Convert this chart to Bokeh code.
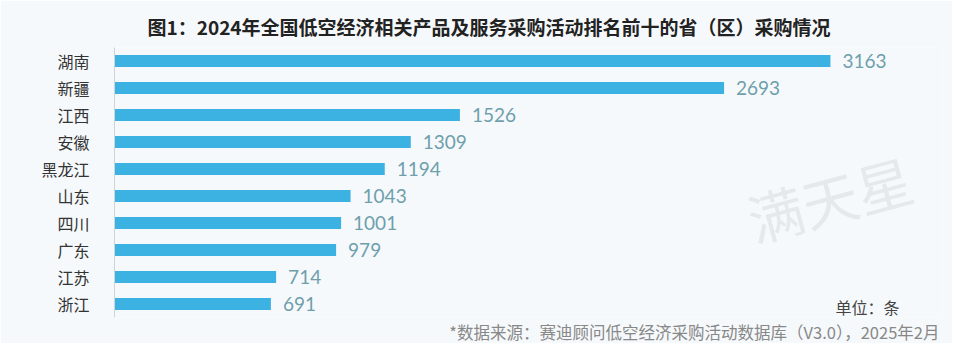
import math
from bokeh.plotting import figure
from bokeh.models import ColumnDataSource, LabelSet, Label, FactorRange, Range1d, Title
from bokeh.core.properties import value
from bokeh.embed import file_html
from bokeh.resources import INLINE

provinces = ["湖南", "新疆", "江西", "安徽", "黑龙江", "山东", "四川", "广东", "江苏", "浙江"]
counts = [3163, 2693, 1526, 1309, 1194, 1043, 1001, 979, 714, 691]
count_labels = [str(c) for c in counts]

title_text = "图1：2024年全国低空经济相关产品及服务采购活动排名前十的省（区）采购情况"
unit_text = "单位：条"
source_text = "*数据来源：赛迪顾问低空经济采购活动数据库（V3.0），2025年2月"
watermark_text = "满天星"

CJK = "Noto Sans CJK SC"
BG = "#f6f9fb"

src = ColumnDataSource(dict(prov=provinces, cnt=counts, lab=count_labels))

p = figure(width=952, height=343, output_backend="svg", toolbar_location=None,
           y_range=FactorRange(factors=provinces[::-1]),
           x_range=Range1d(0, 3658),
           min_border_left=114, min_border_right=10,
           min_border_top=47, min_border_bottom=20)
p.background_fill_color = BG
p.border_fill_color = BG
p.outline_line_color = None
p.grid.visible = False
p.xaxis.visible = False

p.title.text = title_text
p.title.align = "left"
p.title.offset = 33
p.title.text_font = CJK
p.title.text_font_size = "19px"
p.title.text_font_style = "bold"
p.title.text_color = "#222222"
p.title.standoff = 16

p.add_layout(Label(x=715, y=120, x_units="screen", y_units="screen", text=watermark_text,
                   angle=math.radians(15), text_align="center", text_baseline="middle",
                   text_font=CJK, text_font_size="56px", text_font_style="normal",
                   text_color="#aab3b9", text_alpha=0.22))

p.hbar(y="prov", right="cnt", left=0, height=0.44, source=src,
       fill_color="#3cb2e2", line_color=None)

ax = p.yaxis[0]
ax.axis_line_color = "#cfd4d8"
ax.major_tick_line_color = None
ax.minor_tick_line_color = None
ax.major_label_standoff = 19
ax.major_label_text_font = CJK
ax.major_label_text_font_size = "16px"
ax.major_label_text_color = "#333333"

labels = LabelSet(x="cnt", y="prov", text="lab", source=src, x_offset=12,
                  text_baseline="middle", text_font=value("Lato"),
                  text_font_size="19px", text_color="#6e9fac")
p.add_layout(labels)

p.add_layout(Label(x=785, y=11, x_units="screen", y_units="screen", text=unit_text,
                   text_align="right", text_baseline="middle", text_font=CJK,
                   text_font_size="16px", text_color="#444444"))

src_title = Title(text=source_text, align="right", offset=3, text_font=CJK,
                  text_font_size="16.5px", text_font_style="normal",
                  text_color="#888888", standoff=0)
p.add_layout(src_title, "below")

open("out.html", "w").write(file_html(p, INLINE))
